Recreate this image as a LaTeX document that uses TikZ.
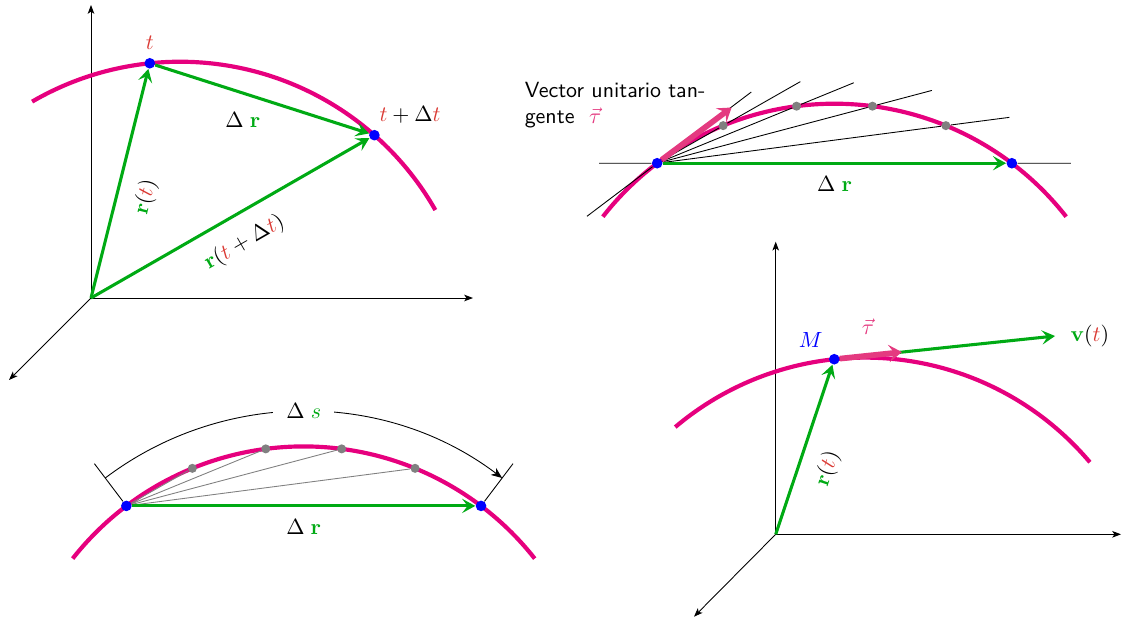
\documentclass[tikz,border=0pt]{standalone}
\usepackage{amsmath, amssymb}
\usepackage{xcolor}
\usepackage{tikz}
\usetikzlibrary{arrows.meta, positioning, calc}

\definecolor{curva}{RGB}{230,0,126}
\definecolor{verde}{RGB}{0,170,20}
\definecolor{rojo}{RGB}{218,58,52}
\definecolor{rosa}{RGB}{228,58,128}

\begin{document}
\begin{tikzpicture}[x=0.016cm, y=0.016cm,
    eje/.style={thin, -{Stealth[length=4pt, width=3pt, inset=1pt]}},
    trayectoria/.style={curva, line width=1.9pt},
    vecverde/.style={verde, line width=1.4pt, -{Stealth[length=6pt, width=6.5pt, inset=2.5pt]}},
    unitario/.style={rosa, line width=2.6pt, -{Stealth[length=6pt, width=8pt, inset=2.5pt]}},
    punto/.style={circle, fill=blue, inner sep=0pt, minimum size=0.17cm},
    puntogris/.style={circle, fill=gray, inner sep=0pt, minimum size=0.145cm}]
  \useasboundingbox (0,0) rectangle (1123,621);

  % posicion en t y en t + Delta t
  \coordinate (o1) at (91,323);
  \draw[eje] (o1) -- (91,616);
  \draw[eje] (o1) -- (473,323);
  \draw[eje] (o1) -- (9,241);
  \coordinate (c1) at (180,265.3);
  \draw[trayectoria] ($(c1)+(120.2:294)$) arc[start angle=120.2, end angle=29.7, radius=294];
  \node[punto, label={[rojo]above:$t$}] (t1) at ($(c1)+(95.9:294)$) {};
  \node[punto, label={[xshift=-3pt]above right:$\textcolor{rojo}{t}+\Delta\textcolor{rojo}{t}$}] (t2) at ($(c1)+(48.6:294)$) {};
  \draw[vecverde] (o1) -- (t1) node[pos=0.47, sloped, below=4pt, text=black] {$\textcolor{verde}{\mathbf{r}}(\textcolor{rojo}{t})$};
  \draw[vecverde] (o1) -- (t2) node[midway, sloped, below=4pt, text=black] {$\textcolor{verde}{\mathbf{r}}(\textcolor{rojo}{t}+\Delta\textcolor{rojo}{t})$};
  \draw[vecverde] (t1) -- (t2) node[pos=0.41, below=5pt, text=black] {$\Delta\;\textcolor{verde}{\mathbf{r}}$};

  % vector unitario tangente
  \coordinate (c2) at (834.5,223.3);
  \draw[trayectoria] ($(c2)+(142:294)$) arc[start angle=142, end angle=38, radius=294];
  \node[punto] (a2) at ($(c2)+(127.1:294)$) {};
  \node[punto] (b2) at ($(c2)+(52.9:294)$) {};
  \foreach \i/\ang in {1/112.26, 2/97.42, 3/82.58, 4/67.74}
    \node[puntogris] (g\i) at ($(c2)+(\ang:294)$) {};
  \coordinate (h1) at ($(a2)+(-58,0)$);
  \coordinate (h2) at ($(b2)+(59,0)$);
  \coordinate (tg1) at ($(a2)+(217.1:88)$);
  \coordinate (tg2) at ($(a2)+(37.1:118)$);
  \draw[thin] (h1) -- (a2) (b2) -- (h2) (tg1) -- (a2) -- (tg2);
  \foreach \i/\k in {1/2.17, 2/1.41, 3/1.276, 4/1.22}
    \draw[thin] (a2) -- (g\i) -- ($(a2)!\k!(g\i)$);
  \draw[vecverde] (a2) -- (b2) node[midway, below=2pt, text=black] {$\Delta\;\textcolor{verde}{\mathbf{r}}$};
  \draw[unitario] (a2) -- ($(a2)+(36.8:93)$);
  \node[align=left, font=\sffamily, anchor=west] (texto) at (517,516) {Vector unitario tan-\\gente\ \ $\textcolor{rosa}{\vec{\tau}}$};

  % longitud de arco y cuerda
  \coordinate (c3) at (303.7,-119.4);
  \draw[trayectoria] ($(c3)+(141.8:294)$) arc[start angle=141.8, end angle=38.2, radius=294];
  \node[punto] (a3) at ($(c3)+(127.1:294)$) {};
  \node[punto] (b3) at ($(c3)+(52.9:294)$) {};
  \foreach \i/\ang in {1/112.26, 2/97.42, 3/82.58, 4/67.74}
    \node[puntogris] (s\i) at ($(c3)+(\ang:294)$) {};
  \foreach \i in {1,...,4}
    \draw[gray, thin] (a3) -- (s\i);
  \draw[vecverde] (a3) -- (b3) node[midway, below=2pt, text=black] {$\Delta\;\textcolor{verde}{\mathbf{r}}$};
  \draw[thin] (a3) -- ($(c3)+(127.1:347)$);
  \draw[thin] (b3) -- ($(c3)+(52.9:347)$);
  \draw[thin, -{Stealth[length=5pt, width=4pt, inset=1.5pt]}] ($(c3)+(127.1:329)$) arc[start angle=127.1, end angle=52.9, radius=329]
    node[pos=0.5, fill=white, inner xsep=6pt] {$\Delta\;\textcolor{verde}{s}$};

  % velocidad
  \coordinate (o4) at (775.7,86.7);
  \draw[eje] (o4) -- (775.7,379.3);
  \draw[eje] (o4) -- (1121,86.7);
  \draw[eje] (o4) -- (694,4.3);
  \coordinate (c4) at (865,-30.6);
  \draw[trayectoria] ($(c4)+(130.2:294)$) arc[start angle=130.2, end angle=40.1, radius=294];
  \node[punto, label={[blue]above left:$M$}] (m) at ($(c4)+(96:294)$) {};
  \draw[vecverde] (o4) -- (m) node[pos=0.44, sloped, below=4pt, text=black] {$\textcolor{verde}{\mathbf{r}}(\textcolor{rojo}{t})$};
  \draw[vecverde] (m) -- ($(m)+(6:222)$) node[right=3pt, text=black] {$\textcolor{verde}{\mathbf{v}}(\textcolor{rojo}{t})$};
  \draw[unitario] (m) -- ($(m)+(6:68)$) node[pos=0.45, above=5pt, text=rosa] {$\vec{\tau}$};
\end{tikzpicture}
\end{document}
